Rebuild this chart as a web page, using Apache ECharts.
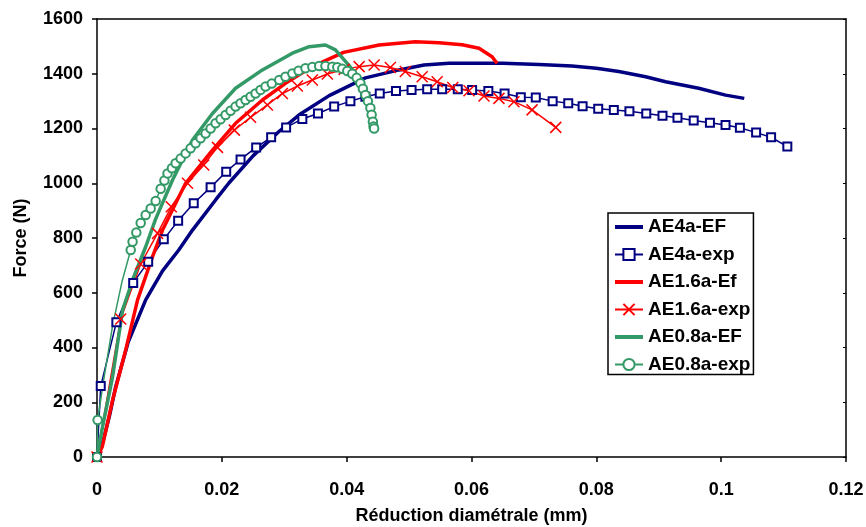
<!DOCTYPE html>
<html>
<head>
<meta charset="utf-8">
<script src="https://cdn.jsdelivr.net/npm/echarts@6/dist/echarts.min.js"></script>
<style>html,body{margin:0;padding:0;background:#fff;}#c{width:866px;height:527px;}</style>
</head>
<body>
<div id="c"></div>
<script>
var xTickLabels = ['0','0.02','0.04','0.06','0.08','0.1','0.12'];
var yTickLabels = ['0','200','400','600','800','1000','1200','1400','1600'];
var seriesNames = ['AE4a-EF','AE4a-exp','AE1.6a-Ef','AE1.6a-exp','AE0.8a-EF','AE0.8a-exp'];

var AE4a_EF = [[0,0],[0.001,60],[0.002,150],[0.003,257],[0.005,420],[0.0078,574],[0.0105,680],[0.0131,756],[0.0153,829],[0.019,939],[0.0211,1000],[0.025,1100],[0.0292,1190],[0.0324,1250],[0.0372,1320],[0.043,1385],[0.0484,1414],[0.0524,1432],[0.0564,1438],[0.065,1438],[0.0708,1434],[0.0761,1428],[0.08,1420],[0.0836,1408],[0.0879,1389],[0.0911,1371],[0.0964,1347],[0.1007,1322],[0.1037,1310]];

var AE4a_exp = [[0,0],[0.0006,259],[0.0031,492],[0.0058,636],[0.0082,713],[0.0107,795],[0.013,863],[0.0155,927],[0.0182,985],[0.0207,1042],[0.023,1087],[0.0255,1131],[0.0279,1168],[0.0303,1204],[0.0329,1235],[0.0354,1255],[0.038,1280],[0.0406,1300],[0.043,1316],[0.0453,1328],[0.0479,1337],[0.0504,1341],[0.0529,1343],[0.0553,1343],[0.0578,1343],[0.0601,1341],[0.0627,1337],[0.0653,1328],[0.0679,1314],[0.0703,1313],[0.073,1300],[0.0755,1292],[0.0778,1281],[0.0803,1272],[0.0828,1268],[0.0853,1263],[0.088,1255],[0.0906,1247],[0.093,1239],[0.0956,1229],[0.0982,1221],[0.1007,1213],[0.103,1203],[0.1056,1185],[0.108,1168],[0.1106,1134]];

var AE16a_Ef = [[0,0],[0.00085,38],[0.0025,208],[0.0046,391],[0.0065,574],[0.0089,732],[0.0105,829],[0.0131,950],[0.0142,1000],[0.0185,1121],[0.0222,1219],[0.0265,1304],[0.0302,1365],[0.0345,1426],[0.0395,1478],[0.0452,1505],[0.051,1517],[0.0548,1513],[0.0585,1506],[0.0612,1493],[0.0633,1462],[0.0641,1438]];

var AE16a_exp = [[0,0],[0.0038,504],[0.007,705],[0.0097,817],[0.0119,914],[0.0145,1000],[0.0171,1067],[0.0193,1131],[0.022,1194],[0.0246,1241],[0.0273,1286],[0.0297,1328],[0.0321,1355],[0.0345,1377],[0.0369,1399],[0.0396,1416],[0.042,1426],[0.0444,1432],[0.047,1423],[0.0494,1408],[0.0521,1389],[0.0545,1371],[0.057,1350],[0.0596,1338],[0.062,1319],[0.0644,1310],[0.0668,1298],[0.0697,1268],[0.0735,1204]];

var AE08a_EF = [[0,0],[0.0008,100],[0.0025,293],[0.0041,537],[0.0059,659],[0.0078,768],[0.0094,870],[0.0121,1012],[0.0153,1158],[0.0185,1255],[0.0222,1347],[0.0265,1414],[0.0313,1475],[0.034,1499],[0.0366,1505],[0.0382,1487],[0.0404,1430],[0.0425,1365],[0.0436,1316],[0.0441,1243],[0.0444,1200]];

// points of the thin line drawn without a marker in the reference
var AE08a_exp_noMarker = [[0.0012,300],[0.0025,480],[0.004,640]];
var AE08a_exp = [[0,0],[0.0001,135],[0.0012,300],[0.0025,480],[0.004,640],[0.0054,756],[0.0057,786],[0.0063,820],[0.007,855],[0.0078,884],[0.0086,908],[0.0094,935],[0.0102,980],[0.0108,1010],[0.0113,1036],[0.012,1055],[0.0126,1073],[0.0134,1090],[0.0142,1109],[0.015,1128],[0.0158,1146],[0.0166,1164],[0.0174,1182],[0.0182,1200],[0.019,1219],[0.0198,1234],[0.0206,1249],[0.0214,1265],[0.0222,1280],[0.023,1292],[0.0238,1304],[0.0246,1316],[0.0254,1328],[0.0262,1341],[0.027,1353],[0.028,1364],[0.0292,1377],[0.0302,1389],[0.0313,1401],[0.0323,1411],[0.0334,1420],[0.0345,1425],[0.0356,1428],[0.0366,1428],[0.0377,1426],[0.0385,1424],[0.0393,1418],[0.0401,1410],[0.0409,1400],[0.0416,1385],[0.0422,1365],[0.0426,1345],[0.043,1322],[0.0434,1300],[0.0438,1275],[0.044,1250],[0.0442,1225],[0.0443,1207],[0.0444,1200]];

var NAVY = '#000080', RED = '#ff0000', GREEN = '#339966';
var FONT = '"Liberation Sans", Arial, sans-serif';
var BAR_ICON = 'path://M0,0L28,0L28,4L0,4Z';
var chart = echarts.init(document.getElementById('c'));

function efSeries(name, data, color) {
  return { name: name, type: 'line', data: data, symbol: 'none', smooth: false,
    lineStyle: { color: color, width: 3.5 }, itemStyle: { color: color }, animation: false };
}
function expSeries(name, data, color, symbol, size, noMarker) {
  var d = data.map(function (p) {
    var skip = noMarker && noMarker.some(function (q) { return q[0] === p[0] && q[1] === p[1]; });
    return skip ? { value: p, symbol: 'none' } : p;
  });
  return { name: name, type: 'line', data: d, symbol: symbol, symbolSize: size, showSymbol: true,
    lineStyle: { color: color, width: 1.5 },
    itemStyle: { color: color, borderColor: color, borderWidth: 1.5 }, animation: false };
}

var option = {
  backgroundColor: '#fff',
  animation: false,
  textStyle: { fontFamily: FONT },
  grid: { left: 97, right: 20, top: 19, bottom: 70, show: false, containLabel: false, outerBoundsMode: 'none' },
  legend: {
    show: true, orient: 'vertical', left: 608, top: 213,
    data: [
      { name: seriesNames[0], icon: BAR_ICON },
      seriesNames[1],
      { name: seriesNames[2], icon: BAR_ICON },
      seriesNames[3],
      { name: seriesNames[4], icon: BAR_ICON },
      seriesNames[5]
    ],
    backgroundColor: '#fff', borderColor: '#000', borderWidth: 1.5, borderRadius: 0,
    padding: [4, 3, 0, 6],
    itemWidth: 28, itemHeight: 14, itemGap: 7.5,
    textStyle: { fontFamily: FONT, fontWeight: 'bold', fontSize: 19, color: '#000', lineHeight: 20 }
  },
  xAxis: [{
    type: 'value', min: 0, max: 0.12, interval: 0.02,
    name: 'Réduction diamétrale (mm)', nameLocation: 'middle', nameGap: 50,
    nameTextStyle: { fontFamily: FONT, fontWeight: 'bold', fontSize: 18, color: '#000' },
    axisLine: { show: true, lineStyle: { color: '#000', width: 1.5 } },
    axisTick: { show: true, length: 5, lineStyle: { color: '#000', width: 1.5 } },
    axisLabel: { margin: 24, fontFamily: FONT, fontWeight: 'bold', fontSize: 18, color: '#000',
      formatter: function (v) { return xTickLabels[Math.round(v / 0.02)]; } },
    splitLine: { show: false }
  }, {
    type: 'value', min: 0, max: 0.12, interval: 0.02, position: 'top',
    axisLine: { show: true, onZero: false, lineStyle: { color: '#000', width: 1.5 } },
    axisTick: { show: false }, axisLabel: { show: false }, splitLine: { show: false }
  }],
  yAxis: [{
    type: 'value', min: 0, max: 1600, interval: 200,
    name: 'Force (N)', nameLocation: 'middle', nameGap: 67, nameRotate: 90,
    nameTextStyle: { fontFamily: FONT, fontWeight: 'bold', fontSize: 18, color: '#000' },
    axisLine: { show: true, lineStyle: { color: '#000', width: 1.5 } },
    axisTick: { show: true, length: 5, lineStyle: { color: '#000', width: 1.5 } },
    axisLabel: { margin: 14, fontFamily: FONT, fontWeight: 'bold', fontSize: 18, color: '#000',
      formatter: function (v) { return yTickLabels[Math.round(v / 200)]; } },
    splitLine: { show: false }
  }, {
    type: 'value', min: 0, max: 1600, interval: 200, position: 'right',
    axisLine: { show: true, onZero: false, lineStyle: { color: '#000', width: 1.5 } },
    axisTick: { show: true, inside: true, length: 3, lineStyle: { color: '#000', width: 1 } },
    axisLabel: { show: false }, splitLine: { show: false }
  }],
  series: [
    efSeries(seriesNames[0], AE4a_EF, NAVY),
    expSeries(seriesNames[1], AE4a_exp, NAVY, 'emptyRect', 8),
    efSeries(seriesNames[2], AE16a_Ef, RED),
    expSeries(seriesNames[3], AE16a_exp, RED, 'path://M0,0L10,10M0,10L10,0', 11),
    efSeries(seriesNames[4], AE08a_EF, GREEN),
    expSeries(seriesNames[5], AE08a_exp, GREEN, 'emptyCircle', 8.5, AE08a_exp_noMarker)
  ]
};
chart.setOption(option);
</script>
</body>
</html>
